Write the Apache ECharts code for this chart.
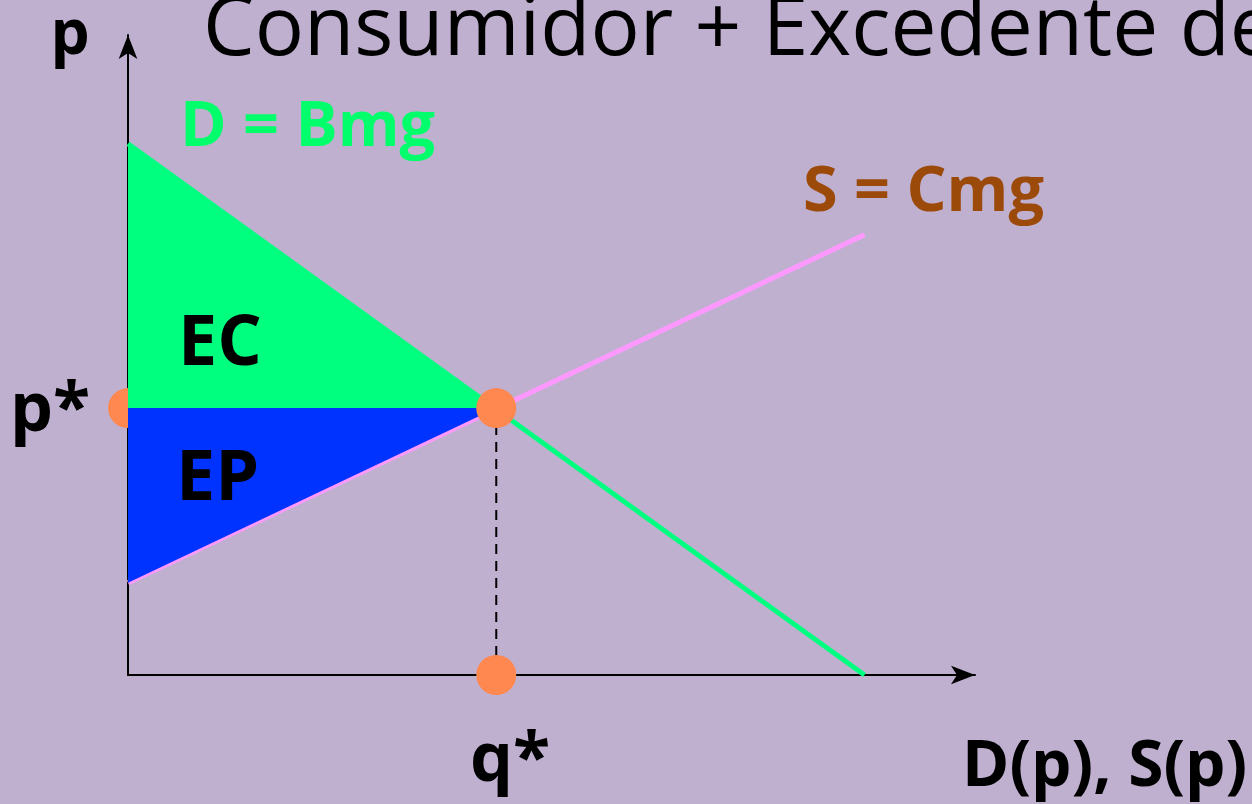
<!DOCTYPE html>
<html>
<head>
<meta charset="utf-8">
<script src="https://cdn.jsdelivr.net/npm/echarts@6/dist/echarts.min.js"></script>
<style>
  html, body { margin: 0; padding: 0; }
  #chart { width: 1252px; height: 804px; }
</style>
</head>
<body>
<div id="chart"></div>
<script>
// axis ranges (no ticks shown)
const xMax = 115
const yMax = 100

// demand (Bmg) and supply (Cmg) curves
const demandQ = [0, 100]
const demandP = [83, 0]
const supplyQ = [0, 100]
const supplyP = [14.4, 68.8]

// equilibrium
const qStar = 50
const pStar = 41.7

const demandLine = demandQ.map((q, i) => [q, demandP[i]])
const supplyLine = supplyQ.map((q, i) => [q, supplyP[i]])

// consumer surplus (EC) and producer surplus (EP) triangles
const ecPoly = [[0, demandP[0]], [qStar, pStar], [0, pStar]]
const epPoly = [[0, pStar], [qStar, pStar], [0, supplyP[0]]]

const chart = echarts.init(document.getElementById('chart'))

const polySeries = (poly, color, z) => ({
  type: 'custom',
  z: z,
  silent: true,
  data: [0],
  renderItem: (params, api) => ({
    type: 'polygon',
    shape: { points: poly.map(p => api.coord(p)) },
    style: { fill: color }
  })
})

const txt = (text, x, y, size, color, weight, align) => ({
  type: 'text',
  x: x,
  y: y,
  z: 10,
  style: {
    text: text,
    fill: color,
    font: `${weight} ${size}px "Open Sans", sans-serif`,
    align: align || 'left',
    verticalAlign: 'middle'
  }
})

chart.setOption({
  backgroundColor: '#C0B0D0',
  animation: false,
  grid: { left: 128, right: 277, top: 35, bottom: 129 },
  xAxis: {
    type: 'value',
    min: 0,
    max: xMax,
    axisLine: { symbol: ['none', 'arrow'], symbolSize: [14, 24], lineStyle: { color: '#000', width: 2 } },
    axisTick: { show: false },
    axisLabel: { show: false },
    splitLine: { show: false }
  },
  yAxis: {
    type: 'value',
    min: 0,
    max: yMax,
    axisLine: { symbol: ['none', 'arrow'], symbolSize: [14, 24], lineStyle: { color: '#000', width: 2 } },
    axisTick: { show: false },
    axisLabel: { show: false },
    splitLine: { show: false }
  },
  series: [
    {
      type: 'scatter',
      z: 1,
      data: [[0, pStar]],
      symbolSize: 40,
      itemStyle: { color: '#FF8850', opacity: 1 }
    },
    {
      type: 'line',
      z: 2,
      data: demandLine,
      showSymbol: false,
      lineStyle: { color: '#00FF80', width: 5 }
    },
    {
      type: 'line',
      z: 2,
      data: supplyLine,
      showSymbol: false,
      lineStyle: { color: '#FF99FF', width: 5 }
    },
    polySeries(ecPoly, '#00FF7F', 3),
    polySeries(epPoly, '#0033FF', 3),
    {
      type: 'line',
      z: 4,
      data: [[qStar, pStar], [qStar, 0]],
      showSymbol: false,
      lineStyle: { color: '#000', width: 2, type: [10, 7] }
    },
    {
      type: 'scatter',
      z: 5,
      data: [[qStar, pStar], [qStar, 0]],
      symbolSize: 40,
      itemStyle: { color: '#FF8850', opacity: 1 }
    }
  ],
  graphic: [
    txt('Consumidor + Excedente del Productor', 203, 32, 82, '#000', 'normal'),
    txt('p', 70, 36, 62, '#000', 'bold', 'center'),
    txt('D = Bmg', 180, 128, 63, '#00FF6A', 'bold'),
    txt('S = Cmg', 803, 193, 63, '#9C4A0A', 'bold'),
    txt('EC', 178, 345, 70, '#000', 'bold'),
    txt('EP', 176, 480, 70, '#000', 'bold'),
    txt('p*', 10, 412, 68, '#000', 'bold'),
    txt('q*', 470, 762, 68, '#000', 'bold'),
    txt('D(p), S(p)', 962, 768, 64, '#000', 'bold')
  ]
})
</script>
</body>
</html>
